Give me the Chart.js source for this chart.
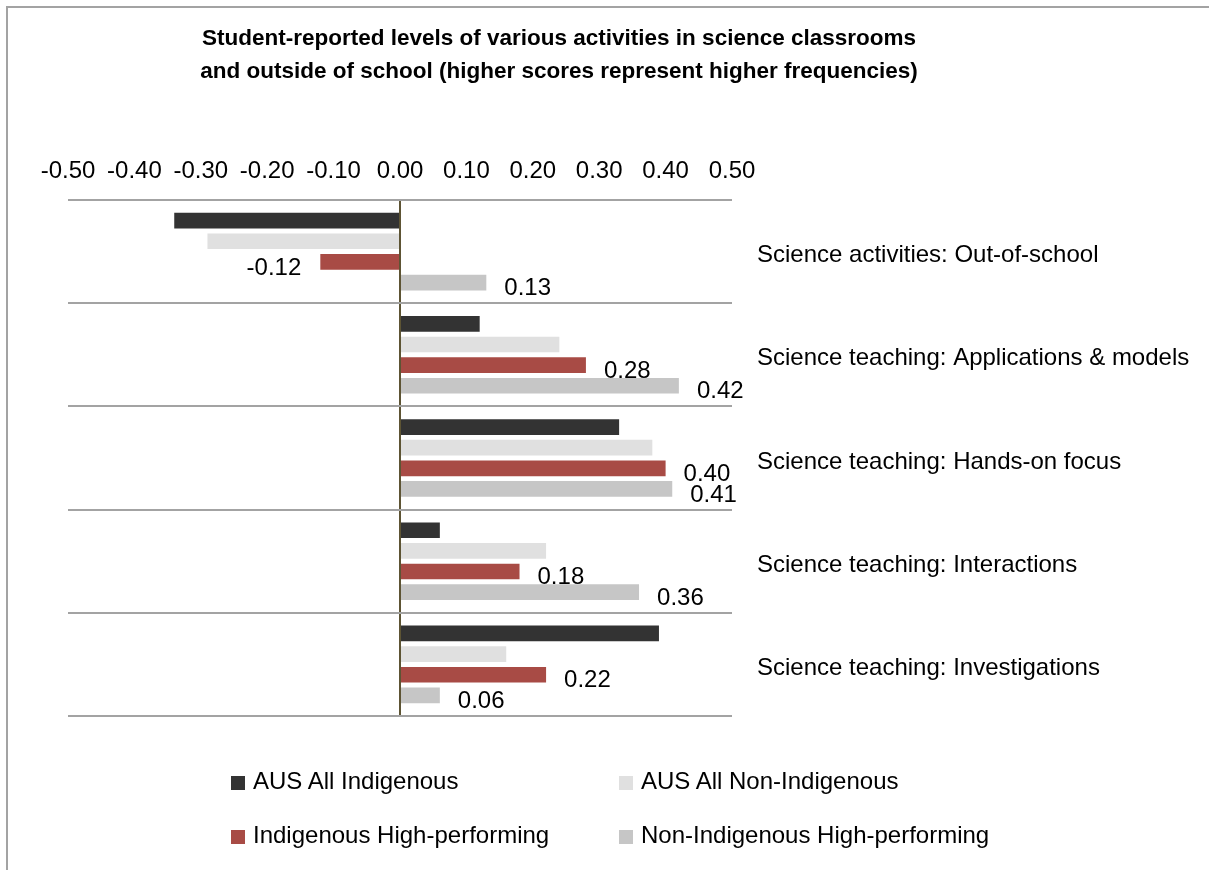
<!DOCTYPE html>
<html>
<head>
<meta charset="utf-8">
<script src="https://cdn.jsdelivr.net/npm/chart.js@4/dist/chart.umd.min.js"></script>
<style>
  html, body { margin:0; padding:0; background:#fff; }
  #wrap { position:relative; width:1209px; height:870px; overflow:hidden; font-family:"Liberation Sans", Arial, sans-serif; }
  #frame { position:absolute; left:6px; top:6px; right:-10px; bottom:-10px; border-top:2px solid #a3a3a3; border-left:2px solid #a3a3a3; }
  #title { position:absolute; left:159px; width:800px; top:21px; text-align:center; font-weight:bold; font-size:22.5px; line-height:33px; color:#000; white-space:nowrap; }
  #chart { position:absolute; left:0; top:0; }
  .lg { position:absolute; font-size:24px; color:#000; white-space:nowrap; line-height:28px; }
  .lg i { display:inline-block; width:14px; height:14px; margin-right:8px; vertical-align:-1px; }
</style>
</head>
<body>
<div id="wrap">
  <div id="frame"></div>
  <canvas id="chart" width="1209" height="870"></canvas>
  <div id="title">Student-reported levels of various activities in science classrooms<br>and outside of school (higher scores represent higher frequencies)</div>
  <div id="legend"></div>
</div>
<script>
(function(){
  const categories = [
    'Science activities: Out-of-school',
    'Science teaching: Applications & models',
    'Science teaching: Hands-on focus',
    'Science teaching: Interactions',
    'Science teaching: Investigations'
  ];
  const seriesNames = ['AUS All Indigenous','AUS All Non-Indigenous','Indigenous High-performing','Non-Indigenous High-performing'];
  const seriesColors = ['#333333','#e0e0e0','#a84b45','#c6c6c6'];
  const ausIndigenous = [-0.34, 0.12, 0.33, 0.06, 0.39];
  const ausNonIndigenous = [-0.29, 0.24, 0.38, 0.22, 0.16];
  const indigenousHigh = [-0.12, 0.28, 0.40, 0.18, 0.22];
  const nonIndigenousHigh = [0.13, 0.42, 0.41, 0.36, 0.06];
  const xTickValues = [-0.5,-0.4,-0.3,-0.2,-0.1,0,0.1,0.2,0.3,0.4,0.5];
  const labelledSeries = [2, 3];

  const values = [ausIndigenous, ausNonIndigenous, indigenousHigh, nonIndigenousHigh];
  const font = "'Liberation Sans', Arial, sans-serif";

  // value labels beside the high-performing bars
  const barLabels = {
    id: 'barLabels',
    afterDatasetsDraw(chart){
      const c = chart.ctx;
      c.save();
      c.font = '24px ' + font;
      c.fillStyle = '#000';
      c.textBaseline = 'middle';
      labelledSeries.forEach(di => {
        chart.getDatasetMeta(di).data.forEach((bar, i) => {
          const v = values[di][i];
          c.textAlign = v < 0 ? 'right' : 'left';
          c.fillText(v.toFixed(2), bar.x + (v < 0 ? -19 : 18), bar.y + 6);
        });
      });
      c.restore();
    }
  };

  new Chart(document.getElementById('chart'), {
    type: 'bar',
    data: {
      labels: categories,
      datasets: values.map((d, i) => ({
        label: seriesNames[i], data: d, backgroundColor: seriesColors[i], borderWidth: 0,
        categoryPercentage: 0.8, barPercentage: 0.76
      }))
    },
    options: {
      indexAxis: 'y',
      responsive: false,
      animation: false,
      layout: { padding: { left: 68, top: 0, right: 0, bottom: 154 } },
      plugins: { legend: { display: false }, tooltip: { enabled: false } },
      scales: {
        x: {
          position: 'top', min: -0.5, max: 0.5, z: 1,
          afterBuildTicks: s => { s.ticks = xTickValues.map(v => ({ value: v })); },
          afterFit: s => { s.height = 200; },
          ticks: { autoSkip: false, maxRotation: 0, padding: 14, color: '#000', font: { size: 24, family: font },
                   callback: v => v.toFixed(2) },
          grid: { drawTicks: false, lineWidth: 2, color: ctx => ctx.tick && ctx.tick.value === 0 ? '#5d5434' : 'rgba(0,0,0,0)' },
          border: { display: false }
        },
        y: {
          position: 'right',
          afterFit: s => { s.width = 477; },
          ticks: { padding: 25, labelOffset: 4, color: '#000', font: { size: 24, family: font } },
          grid: { drawTicks: false, lineWidth: 2, color: '#a3a3a3' },
          border: { display: false }
        }
      }
    },
    plugins: [barLabels]
  });

  // legend, 2 x 2
  const legendPos = [[231, 767], [619, 767], [231, 821], [619, 821]];
  const lg = document.getElementById('legend');
  seriesNames.forEach((n, i) => {
    const d = document.createElement('div');
    d.className = 'lg';
    d.style.left = legendPos[i][0] + 'px';
    d.style.top = legendPos[i][1] + 'px';
    d.innerHTML = '<i style="background:' + seriesColors[i] + '"></i>' + n;
    lg.appendChild(d);
  });
})();
</script>
</body>
</html>
